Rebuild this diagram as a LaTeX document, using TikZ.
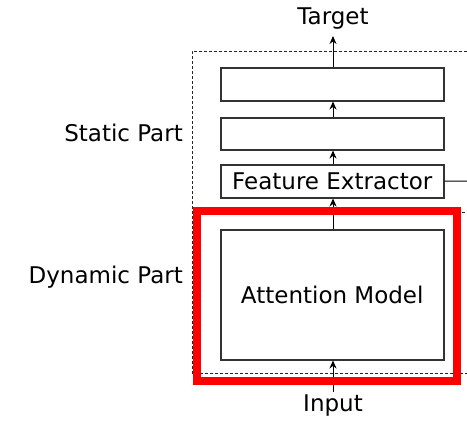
\documentclass[tikz,border=0pt]{standalone}
\usepackage{fontspec}
\setmainfont{DejaVu Sans}
\usetikzlibrary{arrows.meta}
\begin{document}
\begin{tikzpicture}[x=1pt,y=-1pt,
  blk/.style={draw=black!80,line width=1.5pt,fill=white,minimum width=223pt,inner sep=0pt,anchor=north west},
  lbl/.style={font=\fontsize{23}{27}\selectfont,inner sep=0pt},
  arr/.style={-{Stealth[length=8pt,width=7pt]},line width=1pt},
  dsh/.style={draw=black!85,line width=0.9pt,dash pattern=on 3pt off 2pt}]
\useasboundingbox (0,0) rectangle (467,424);
% dashed outer frame (cut at the right edge)
\draw[dsh] (467,51) -- (192,51) -- (192,373) -- (467,373);
\draw[dsh] (192,212) -- (467,212);
% blocks
\node[blk,minimum height=33pt] (b1) at (220,67) {};
\node[blk,minimum height=32pt] (b2) at (220,117) {};
\node[blk,minimum height=33pt] (fe) at (220,164) {};
\node[lbl] at (fe.center) {Feature Extractor};
\node[blk,minimum height=130pt] (am) at (220,229) {};
\node[lbl] (amt) at (am.center) {Attention Model};
% texts
\node[lbl] (tg) at (333,19) {Target};
\node[lbl] (in) at (333,406) {Input};
\node[lbl,anchor=east] (sp) at (183,133) {Static Part};
\node[lbl,anchor=east] (dp) at (183,277) {Dynamic Part};
\coordinate (tgb) at (333,36);
\coordinate (inb) at (333,392);
\coordinate (fer) at (467,181);
% connectors
\draw[arr] (inb) -- (am.south -| inb);
\draw[arr] (am.north -| inb) -- (fe.south -| inb);
\draw[arr] (fe.north -| inb) -- (b2.south -| inb);
\draw[arr] (b2.north -| inb) -- (b1.south -| inb);
\draw[arr] (b1.north -| inb) -- (tgb);
\draw[line width=1pt] (fe.east) -- (fer);
% red highlight
\draw[draw={rgb,255:red,255;green,0;blue,0},line width=8pt] (197,211) rectangle (457,381);
\end{tikzpicture}
\end{document}
